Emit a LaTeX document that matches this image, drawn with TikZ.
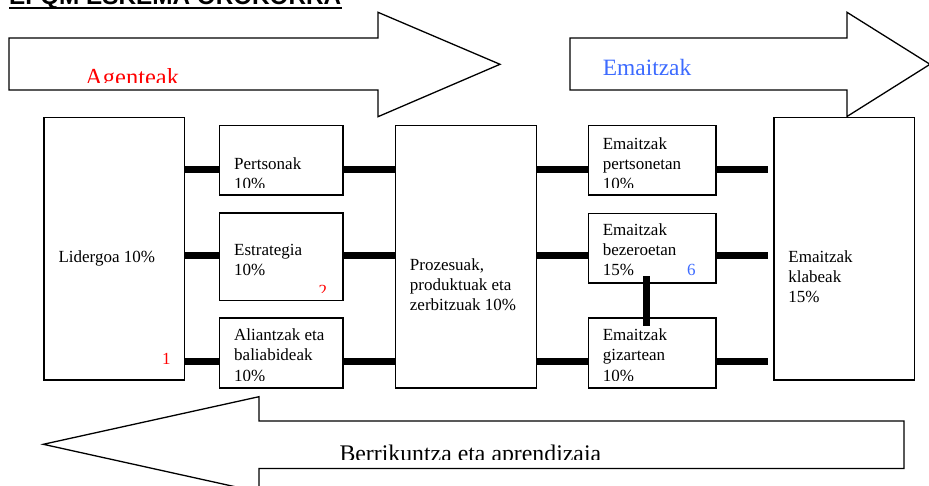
\documentclass[tikz,border=0pt]{standalone}
\usepackage{fontspec}
\setmainfont{Liberation Serif}
\newfontfamily\headfont{Liberation Sans}
\usetikzlibrary{calc}
\definecolor{emblue}{RGB}{61,107,255}
\newcommand{\boxtext}[1]{\begin{tabular}[t]{@{}l@{}}#1\end{tabular}}
% box, then its text cut off 8pt above the bottom edge
\newcommand{\fieldbox}[7]{%
  \node[box,minimum width=#4pt,minimum height=#5pt] (#1) at (#2,#3) {};
  \begin{scope}
    \clip (#1.north west) rectangle ($(#1.south east)+(0,-8)$);
    \node[txt] (#1-t) at (#2+15,#6) {\boxtext{#7}};
  \end{scope}}
\begin{document}
\begin{tikzpicture}[x=1pt,y=-1pt,
  box/.style={draw,line width=1.3pt,fill=white,anchor=north west,inner sep=0pt},
  txt/.style={anchor=base west,inner sep=0pt,font=\fontsize{17}{20}\selectfont},
  lbl/.style={anchor=base west,inner sep=0pt},
  bar/.style={line width=7pt},
  fat/.style={draw,line width=1.3pt,line join=miter,fill=white}]
\clip (0,0) rectangle (929,486);

% title
\node[lbl,font=\headfont\bfseries\fontsize{24.3}{28}\selectfont] (title) at (9,4.5) {EFQM ESKEMA OROKORRA};
\draw[line width=2.5pt] ($(title.base west)+(0,3.5)$) -- ($(title.base east)+(0,3.5)$);

% big arrows
\path[fat] (9,38) -- (378,38) -- (378,12.3) -- (500,64.3) -- (378,116.7) -- (378,90) -- (9,90) -- cycle;
\path[fat] (570,38) -- (847,38) -- (847,12.3) -- (930,64.3) -- (847,116.5) -- (847,90) -- (570,90) -- cycle;
\path[fat] (904,421) -- (259,421) -- (259,396.7) -- (43.3,444.3) -- (259,492) -- (259,468.5) -- (904,468.5) -- cycle;
\begin{scope}
  \clip (0,0) rectangle (929,82.5);
  \node[lbl,text=red,font=\fontsize{24.5}{30}\selectfont] (agent) at (85,85.2) {Agenteak};
\end{scope}
\begin{scope}
  \clip (0,0) rectangle (929,75);
  \node[lbl,text=emblue,font=\fontsize{23.4}{28}\selectfont] (emait) at (602.7,75.6) {Emaitzak};
\end{scope}
\begin{scope}
  \clip (0,400) rectangle (929,459.3);
  \node[lbl,font=\fontsize{23.8}{28}\selectfont] (berri) at (339.3,461.8) {Berrikuntza eta aprendizaia};
\end{scope}

% boxes
\fieldbox{lider}{43.3}{116.7}{140.7}{262.6}{262.7}{Lidergoa 10\%}
\fieldbox{pertson}{219}{124.7}{123.3}{69.6}{169.3}{Pertsonak\\10\%}
\fieldbox{estrat}{219}{212.3}{123.3}{87.4}{256}{Estrategia\\10\%}
\fieldbox{alian}{219}{317.3}{123.3}{70}{341}{Aliantzak eta\\baliabideak\\10\%}
\fieldbox{proz}{394.7}{125}{140.8}{262.3}{270.7}{Prozesuak,\\produktuak eta\\zerbitzuak 10\%}
\fieldbox{empert}{587.6}{125}{127.8}{69.3}{149.3}{Emaitzak\\pertsonetan\\10\%}
\fieldbox{embez}{587.6}{212.7}{127.8}{69.6}{236}{Emaitzak\\bezeroetan\\15\%}
\fieldbox{emgiz}{587.6}{317.3}{127.8}{70}{341}{Emaitzak\\gizartean\\10\%}
\fieldbox{klabe}{773.2}{116.7}{140.8}{262.6}{262.7}{Emaitzak\\klabeak\\15\%}

% criterion numbers
\node[txt,text=red] (num1) at (162,364) {1};
\begin{scope}
  \clip (estrat.north west) rectangle ($(estrat.south east)+(0,-8)$);
  \node[txt,text=red] (num2) at (318.3,296.6) {2};
\end{scope}
\begin{scope}
  \clip (embez.north west) rectangle ($(embez.south east)+(0,-8)$);
  \node[txt,text=emblue] (num6) at (687,276) {6};
\end{scope}

% connectors
\coordinate (r1) at (0,169.3);
\coordinate (r2) at (0,256);
\coordinate (r3) at (0,361.7);
\coordinate (kend) at (767.6,0);
\coordinate (vx) at (646,0);
\foreach \a/\b/\r in {lider/pertson/r1,pertson/proz/r1,proz/empert/r1,
                      lider/estrat/r2,estrat/proz/r2,proz/embez/r2,
                      lider/alian/r3,alian/proz/r3,proz/emgiz/r3}
  \draw[bar] (\a.east |- \r) -- (\b.west |- \r);
\foreach \a/\r in {empert/r1,embez/r2,emgiz/r3}
  \draw[bar] (\a.east |- \r) -- (kend |- \r);
\draw[bar] ($(vx |- embez.south)+(0,-7.3)$) -- ($(vx |- emgiz.north)+(0,8.7)$);
\end{tikzpicture}
\end{document}
